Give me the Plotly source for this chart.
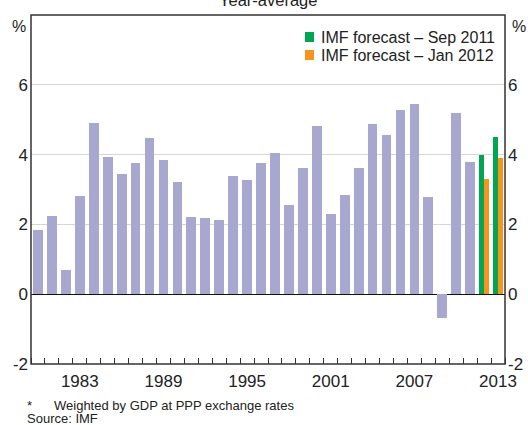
import plotly.graph_objects as go

years = list(range(1980, 2012))
growth = [1.84, 2.24, 0.70, 2.82, 4.91, 3.93, 3.45, 3.76, 4.48, 3.85, 3.22,
          2.21, 2.19, 2.13, 3.39, 3.28, 3.76, 4.05, 2.56, 3.62, 4.82,
          2.30, 2.85, 3.62, 4.88, 4.56, 5.28, 5.45, 2.79, -0.67, 5.19, 3.79]
fc_years = [2012, 2013]
fc_sep2011 = [3.99, 4.51]
fc_jan2012 = [3.30, 3.91]
x_tick_labels = [1983, 1989, 1995, 2001, 2007, 2013]
y_ticks = [-2, 0, 2, 4, 6]
y_tick_text = ["-2", "0", "2", "4", "6"]

FONT = "Arial, Liberation Sans, sans-serif"
PURPLE = "#a7a7d0"
GREEN = "#00a651"
ORANGE = "#f7941d"
AX = "#333333"

fig = go.Figure()
fig.add_trace(go.Bar(x=years, y=growth, width=0.7, marker=dict(color=PURPLE, line=dict(width=0)),
                     showlegend=False))
fig.add_trace(go.Bar(x=fc_years, y=fc_sep2011, width=0.36, offset=-0.36,
                     marker=dict(color=GREEN, line=dict(width=0)), name="IMF forecast – Sep 2011",
                     showlegend=False))
fig.add_trace(go.Bar(x=fc_years, y=fc_jan2012, width=0.36, offset=0.0,
                     marker=dict(color=ORANGE, line=dict(width=0)), name="IMF forecast – Jan 2012",
                     showlegend=False))
# invisible trace to activate right axis
fig.add_trace(go.Scatter(x=[1980], y=[0], yaxis="y2", mode="markers",
                         marker=dict(opacity=0), showlegend=False, hoverinfo="skip"))

fig.update_layout(
    width=528, height=425,
    margin=dict(l=31, r=23, t=15, b=61, autoexpand=False),
    plot_bgcolor="white", paper_bgcolor="white",
    barmode="overlay", bargap=0,
    font=dict(family=FONT, color="#222222", size=17),
    xaxis=dict(range=[1979.5, 2013.5], tickmode="array", tickvals=x_tick_labels,
               ticktext=[str(v) for v in x_tick_labels], ticks="", showgrid=False,
               zeroline=False, showline=False, tickfont=dict(size=17), automargin=False,
               ticklabelstandoff=5,
               minor=dict(tickmode="linear", tick0=1979.5, dtick=1, ticks="inside",
                          ticklen=6, tickcolor=AX, tickwidth=1, showgrid=False)),
    yaxis=dict(range=[-2, 8], tickmode="array", tickvals=y_ticks, ticktext=y_tick_text,
               ticks="", showgrid=True, gridcolor="#d6d6d6", gridwidth=1.2,
               zeroline=True, zerolinecolor="#111111", zerolinewidth=1.2,
               showline=False, tickfont=dict(size=17), ticklabelstandoff=2, automargin=False),
    yaxis2=dict(range=[-2, 8], tickmode="array", tickvals=y_ticks, ticktext=y_tick_text,
                ticks="", overlaying="y", side="right", showgrid=False, zeroline=False,
                showline=False, tickfont=dict(size=17), ticklabelstandoff=2, automargin=False),
)

fig.add_shape(type="rect", xref="paper", yref="paper", x0=0, x1=1, y0=0, y1=1,
              line=dict(color=AX, width=1.5), layer="above")

ann = []
ann.append(dict(text="Year-average", xref="paper", yref="paper", x=0.5, y=1,
                xanchor="center", yanchor="bottom", yshift=4, showarrow=False,
                font=dict(size=16.5)))
ann.append(dict(text="%", xref="paper", yref="paper", x=0, y=1, xanchor="right",
                yanchor="top", xshift=-3, yshift=-1, showarrow=False, font=dict(size=16)))
ann.append(dict(text="%", xref="paper", yref="paper", x=1, y=1, xanchor="left",
                yanchor="top", xshift=5, yshift=-1, showarrow=False, font=dict(size=16)))
# legend
legend_items = [("IMF forecast – Sep 2011", GREEN), ("IMF forecast – Jan 2012", ORANGE)]
for i, (label, col) in enumerate(legend_items):
    yc = 37 + 18 * i
    fig.add_shape(type="rect", xref="paper", yref="paper",
                  x0=(305 - 31) / 474, x1=(314 - 31) / 474,
                  y0=(364 - (yc + 5)) / 349, y1=(364 - (yc - 5)) / 349,
                  line=dict(width=0), fillcolor=col)
    ann.append(dict(text=label, xref="paper", yref="paper", x=(319 - 31) / 474,
                    y=(364 - yc) / 349, xanchor="left", yanchor="middle",
                    showarrow=False, font=dict(size=16)))
# footnotes
ann.append(dict(text="*", xref="paper", yref="paper", x=(25 - 31) / 474, y=(364 - 405) / 349,
                xanchor="left", yanchor="middle", showarrow=False, font=dict(size=13)))
ann.append(dict(text="Weighted by GDP at PPP exchange rates", xref="paper", yref="paper",
                x=(52 - 31) / 474, y=(364 - 405) / 349, xanchor="left", yanchor="middle",
                showarrow=False, font=dict(size=13)))
ann.append(dict(text="Source: IMF", xref="paper", yref="paper", x=(25 - 31) / 474,
                y=(364 - 419) / 349, xanchor="left", yanchor="middle",
                showarrow=False, font=dict(size=13)))
fig.update_layout(annotations=ann)

fig.write_html("out.html", config={"displayModeBar": False},
               post_script="document.body.style.margin='0';")
